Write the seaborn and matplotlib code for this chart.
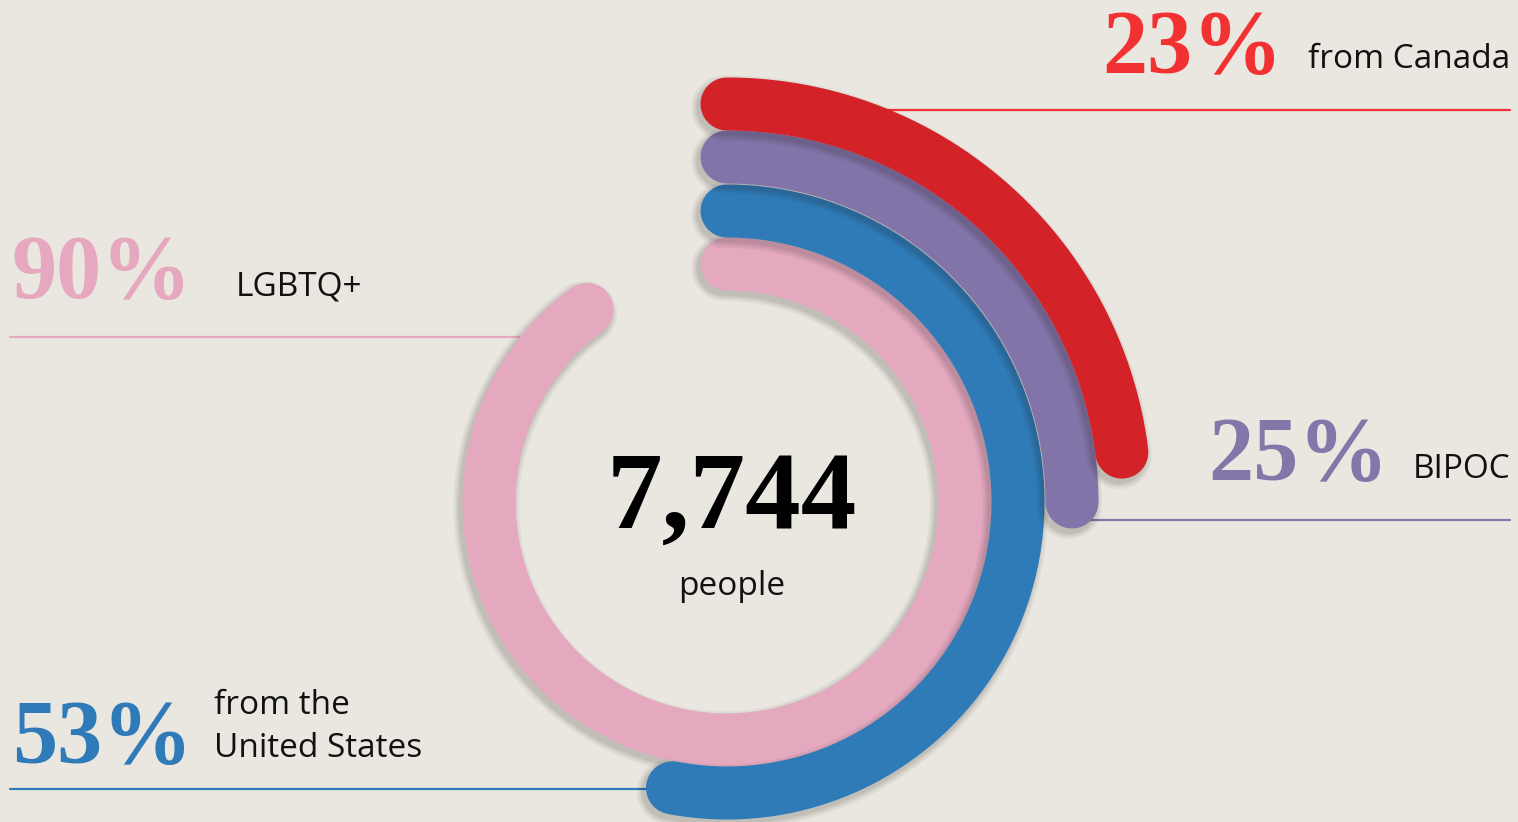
import numpy as np
import seaborn as sns
import matplotlib.pyplot as plt
import matplotlib.patheffects as pe

sns.set_theme(style="white")

# data
categories = ['LGBTQ+', 'from the\nUnited States', 'BIPOC', 'from Canada']
values = [90, 53, 25, 23]
value_labels = ['90%', '53%', '25%', '23%']
arc_colors = ['#E4A9BF', '#2F7BB8', '#8274A8', '#D42229']
text_colors = ['#E6A8BE', '#2F7AB8', '#8376A9', '#F23232']
total = '7,744'
total_label = 'people'

bg = '#EAE6E0'
cx, cy = 727, 502
radii = [238, 291, 345, 398]
arc_lw = 38.2

fig, ax = plt.subplots(figsize=(15.18, 8.22), dpi=100)
fig.subplots_adjust(0, 0, 1, 1)
fig.patch.set_facecolor(bg)
ax.set_facecolor(bg)

# guide lines (behind arcs): (x0, x1, y)
guides = [(10, 520, 337), (10, 660, 789), (1075, 1510, 520), (880, 1510, 110)]
for (x0, x1, y), c in zip(guides, text_colors):
    ax.plot([x0, x1], [y, y], color=c, lw=1.6, zorder=1)

# soft drop shadow made of a few widening translucent strokes
shadow = [pe.SimpleLineShadow(offset=(-2, -3), shadow_color='k', alpha=0.05,
                              linewidth=arc_lw + w) for w in (9, 6, 3.5, 1.5)]
shadow.append(pe.Normal())

# arcs, innermost first so outer ones sit on top
for val, r, c in zip(values, radii, arc_colors):
    theta = np.linspace(0, val / 100 * 2 * np.pi, 300)
    sns.lineplot(x=cx + r * np.sin(theta), y=cy - r * np.cos(theta),
                 sort=False, estimator=None, color=c, linewidth=arc_lw,
                 solid_capstyle='round', path_effects=shadow, ax=ax, zorder=2)

serif = dict(family='Liberation Serif', weight='bold', fontsize=65)
sans = dict(family='Open Sans', fontsize=24, color='#111111')

# big percentages: (x, baseline)
pct_pos = [(12, 298), (12, 763), (1208, 480), (1102, 73)]
for (x, y), t, c in zip(pct_pos, value_labels, text_colors):
    ax.text(x, y, t, color=c, ha='left', va='baseline', **serif, zorder=3)

ax.text(236, 295, categories[0], ha='left', va='baseline', **sans)
ax.text(214, 714, 'from the', ha='left', va='baseline', **sans)
ax.text(214, 757, 'United States', ha='left', va='baseline', **sans)
ax.text(1510, 478, categories[2], ha='right', va='baseline', **sans)
ax.text(1510, 68, categories[3], ha='right', va='baseline', **sans)

ax.text(732, 528, total, ha='center', va='baseline', color='black',
        family='Liberation Serif', weight='bold', fontsize=80)
ax.text(732, 595, total_label, ha='center', va='baseline', **sans)

ax.set_xlim(0, 1518)
ax.set_ylim(822, 0)
ax.set_aspect('equal')
ax.axis('off')

fig.savefig('out.png', dpi=100, facecolor=bg)
